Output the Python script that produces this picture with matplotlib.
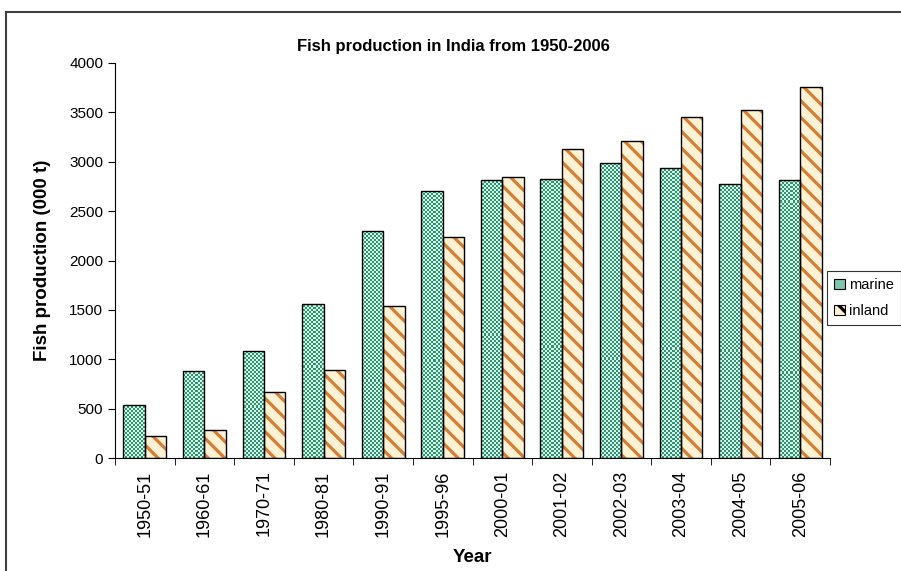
import numpy as np
import matplotlib.pyplot as plt
from matplotlib.patches import Patch
from matplotlib.lines import Line2D

plt.rcParams['font.family'] = ['Liberation Sans', 'DejaVu Sans']
plt.rcParams['hatch.linewidth'] = 2.3

years = ["1950-51", "1960-61", "1970-71", "1980-81", "1990-91", "1995-96",
         "2000-01", "2001-02", "2002-03", "2003-04", "2004-05", "2005-06"]
marine = [534, 880, 1086, 1555, 2300, 2707, 2811, 2830, 2990, 2941, 2779, 2816]
inland = [218, 280, 670, 887, 1536, 2242, 2845, 3126, 3210, 3458, 3526, 3756]

marine_dark, marine_light = "#33936f", "#d2f7ec"
inland_bg, inland_hatch = "#fff2d4", "#d47e36"

fig = plt.figure(figsize=(9.01, 5.71), dpi=100)
ax = fig.add_axes([115 / 901, 1 - 458 / 571, 715 / 901, 395 / 571])

x = np.arange(len(years))
w = 0.36
xlim = (-0.5, len(years) - 0.5)
ylim = (0, 4000)

# checkerboard texture for the marine bars (2 px cells)
ny, nx = 395 // 2, 715 // 2
checker = (np.add.outer(np.arange(ny), np.arange(nx)) % 2).astype(float)
cmap = plt.matplotlib.colors.ListedColormap([marine_light, marine_dark])

mbars = ax.bar(x - w / 2, marine, w, facecolor="none", edgecolor="black",
               linewidth=1, zorder=3)
for b in mbars:
    im = ax.imshow(checker, cmap=cmap, extent=(*xlim, *ylim), aspect="auto",
                   interpolation="nearest", zorder=2)
    im.set_clip_path(b)

ax.bar(x + w / 2, inland, w, color=inland_bg, edgecolor=inland_hatch,
       hatch="\\\\", linewidth=0, zorder=2)
ax.bar(x + w / 2, inland, w, facecolor="none", edgecolor="black",
       linewidth=1, zorder=3)

ax.set_xlim(*xlim)
ax.set_ylim(*ylim)
ax.set_yticks(np.arange(0, 4001, 500))
ax.set_xticks(x)
ax.set_xticklabels(years, rotation=90, fontsize=13)
ax.set_xticks(np.arange(-0.5, len(years)), minor=True)
ax.tick_params(axis="x", which="major", length=0, pad=9)
ax.tick_params(axis="x", which="minor", length=5, direction="out")
ax.tick_params(axis="y", length=5, direction="out", labelsize=11)

for s in ("top", "right"):
    ax.spines[s].set_visible(False)
ax.spines["left"].set_zorder(4)
ax.spines["bottom"].set_zorder(4)

ax.set_ylabel("Fish production (000 t)", fontsize=13.5, fontweight="bold", labelpad=13)
ax.set_xlabel("Year", fontsize=13.5, fontweight="bold", labelpad=9)
fig.text(453 / 901, 1 - 46 / 571, "Fish production in India from 1950-2006",
         ha="center", va="center", fontsize=12, fontweight="bold")

handles = [Patch(facecolor="#7fc6ad", edgecolor="black", linewidth=0.8),
           Patch(facecolor=inland_bg, edgecolor="black", hatch="\\\\", linewidth=0.8)]
leg = fig.legend(handles, ["marine", "inland"], loc="upper left",
                 bbox_to_anchor=(827 / 901, 1 - 271 / 571), fontsize=10.5,
                 frameon=True, fancybox=False, handlelength=0.7, handleheight=0.7,
                 handletextpad=0.3, borderpad=0.5, labelspacing=0.8,
                 borderaxespad=0)
leg.get_frame().set_edgecolor("black")
leg.get_frame().set_linewidth(0.8)

# chart border
fig.add_artist(Line2D([6 / 901, 6 / 901], [0, 1 - 12 / 571], color="#404040",
                      linewidth=1.5, transform=fig.transFigure))
fig.add_artist(Line2D([6 / 901, 1], [1 - 12 / 571, 1 - 12 / 571], color="#404040",
                      linewidth=1.5, transform=fig.transFigure))

fig.savefig("out.png", dpi=100)
